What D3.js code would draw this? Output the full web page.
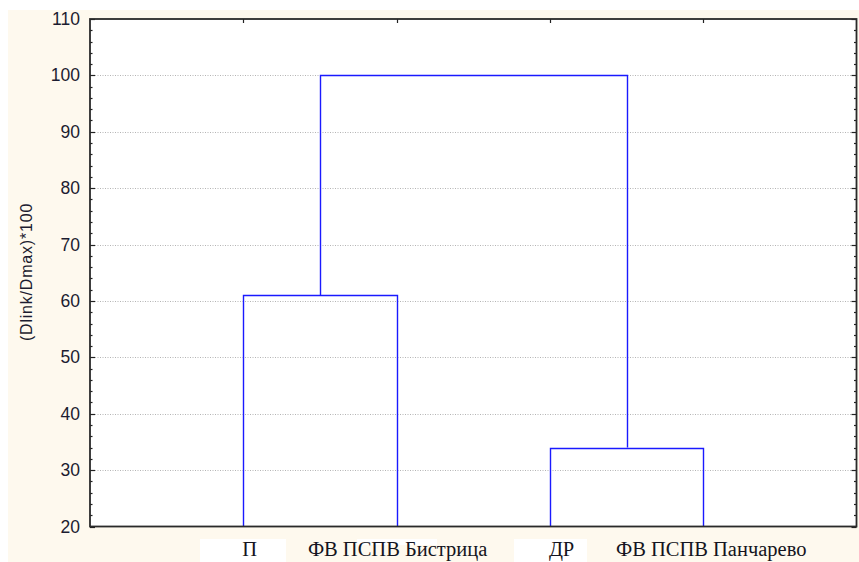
<!DOCTYPE html>
<html><head><meta charset="utf-8">
<script src="https://cdn.jsdelivr.net/npm/d3@7"></script>
<style>
html,body{margin:0;padding:0;background:#fff;}
svg{display:block;}
</style></head>
<body>
<script>
// ---- data ----
const leafLabels = ["П", "ФВ ПСПВ Бистрица", "ДР", "ФВ ПСПВ Панчарево"];
// merges: [childA, childB, linkage distance]; children: "L<i>" leaf or "M<j>" merge
const mergeA = ["L0", "L2", "M0"];
const mergeB = ["L1", "L3", "M1"];
const mergeHeight = [61, 34, 100];
const yTicks = [20, 30, 40, 50, 60, 70, 80, 90, 100, 110];
const yLabel = "(Dlink/Dmax)*100";

const W = 859, H = 562;
const plot = {l: 90, r: 856.5, t: 19, b: 526.5};

const svg = d3.select("body").append("svg").attr("width", W).attr("height", H);
svg.append("rect").attr("x", 8).attr("y", 10).attr("width", W - 8).attr("height", H - 10).attr("fill", "#fef9ee");
svg.append("rect").attr("x", plot.l).attr("y", plot.t).attr("width", plot.r - plot.l).attr("height", plot.b - plot.t).attr("fill", "#fff");

const x = d3.scaleLinear().domain([0, leafLabels.length + 1]).range([plot.l, plot.r]);
const y = d3.scaleLinear().domain([20, 110]).range([plot.b, plot.t]);

// grid
svg.append("g").selectAll("line").data(yTicks.slice(1, -1)).join("line")
  .attr("x1", plot.l).attr("x2", plot.r)
  .attr("y1", d => Math.round(y(d)) + 0.5).attr("y2", d => Math.round(y(d)) + 0.5)
  .attr("stroke", "#b4b4b4").attr("stroke-width", 1).attr("stroke-dasharray", "1,1.5");

// node positions
const pos = {};
leafLabels.forEach((l, i) => pos["L" + i] = {x: x(i + 1), h: 20});
mergeHeight.forEach((h, j) => {
  const a = pos[mergeA[j]], b = pos[mergeB[j]];
  pos["M" + j] = {x: (a.x + b.x) / 2, h: h, a: a, b: b};
});
const links = mergeHeight.map((h, j) => pos["M" + j]);
svg.append("g").selectAll("path").data(links).join("path")
  .attr("d", d => `M${Math.round(d.a.x)+0.5},${y(d.a.h)}V${Math.round(y(d.h))+0.5}H${Math.round(d.b.x)+0.5}V${y(d.b.h)}`)
  .attr("fill", "none").attr("stroke", "#1a1aff").attr("stroke-width", 1.4);

// axes
const minor = d3.range(20, 110.01, 2);
const left = d3.axisLeft(y).tickValues(yTicks).tickSize(0).tickPadding(10);
const gL = svg.append("g").attr("transform", `translate(${plot.l},0)`).call(left);
gL.select(".domain").remove();
gL.selectAll("text").attr("font-family", "Arial, 'Liberation Sans', sans-serif").attr("font-size", 17.5).attr("fill", "#1c1c30");

// ticks inward
function ticksAt(x0, dir) {
  svg.append("g").selectAll("line").data(minor).join("line")
    .attr("x1", x0).attr("x2", d => x0 + dir * (d % 10 === 0 ? 5 : 2.5))
    .attr("y1", d => Math.round(y(d)) + 0.5).attr("y2", d => Math.round(y(d)) + 0.5)
    .attr("stroke", "#222").attr("stroke-width", 1.2);
}
ticksAt(plot.l, 1);
ticksAt(plot.r, -1);
// top ticks at leaves
svg.append("g").selectAll("line").data(leafLabels).join("line")
  .attr("x1", (d, i) => Math.round(x(i + 1)) + 0.5).attr("x2", (d, i) => Math.round(x(i + 1)) + 0.5)
  .attr("y1", plot.t).attr("y2", plot.t + 4).attr("stroke", "#222").attr("stroke-width", 1.2);

// frame
svg.append("rect").attr("x", plot.l).attr("y", plot.t).attr("width", plot.r - plot.l).attr("height", plot.b - plot.t)
  .attr("fill", "none").attr("stroke", "#2a2a2a").attr("stroke-width", 1.8);

// leaf labels (with white patches as in the source)
const labelAnchor = ["start", "middle", "start", "middle"];
const labelDx = [-1, 1, -1, 8];
const patches = [[200, 539, 86, 23], [357, 539, 80, 6], [514, 539, 73, 23]];
svg.append("g").selectAll("rect").data(patches).join("rect")
  .attr("x", d => d[0]).attr("y", d => d[1]).attr("width", d => d[2]).attr("height", d => d[3]).attr("fill", "#fff");
svg.append("g").selectAll("text").data(leafLabels).join("text")
  .attr("x", (d, i) => x(i + 1) + labelDx[i]).attr("y", 556)
  .attr("text-anchor", (d, i) => labelAnchor[i])
  .attr("font-family", "'Liberation Serif', 'Times New Roman', serif").attr("font-size", 20.5).attr("fill", "#141420")
  .text(d => d);

// y label
svg.append("text").attr("transform", `translate(32,272) rotate(-90)`)
  .attr("text-anchor", "middle").attr("font-family", "Arial, 'Liberation Sans', sans-serif")
  .attr("font-size", 16).attr("letter-spacing", 0.8).attr("fill", "#1c1c30").text(yLabel);
</script>
</body></html>
